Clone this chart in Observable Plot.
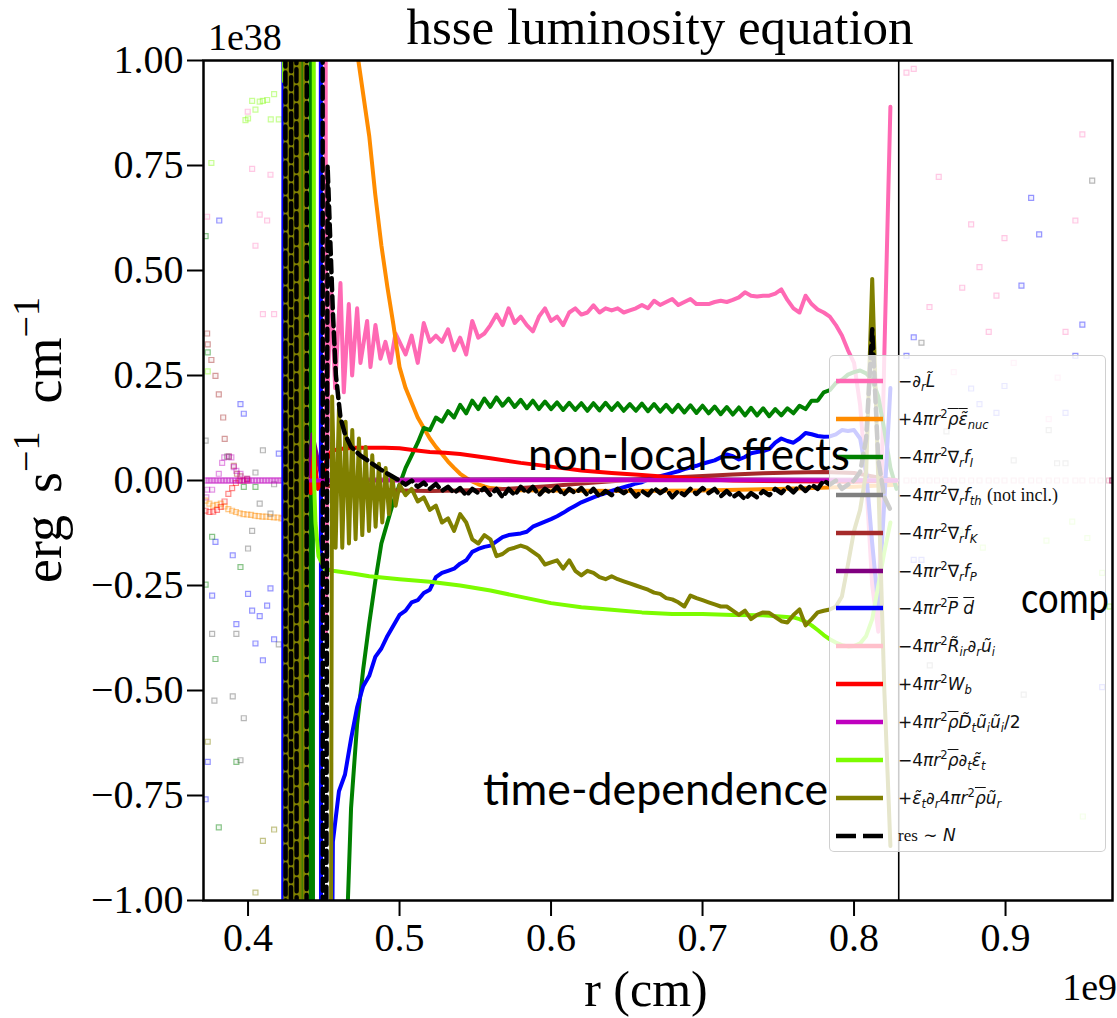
<!DOCTYPE html>
<html><head><meta charset="utf-8">
<script src="https://cdn.jsdelivr.net/npm/d3@7"></script>
<script src="https://cdn.jsdelivr.net/npm/@observablehq/plot@0.6"></script>
<style>
body{margin:0;background:#fff;}
#wrap{position:relative;width:1117px;height:1018px;overflow:hidden;background:#fff;}
#chart svg{display:block;}
#legend{position:absolute;left:829px;top:355px;width:277px;height:497px;background:rgba(255,255,255,0.8);border:1.5px solid rgba(200,200,200,0.85);border-radius:5px;box-sizing:border-box;}
.row{position:absolute;left:0;height:30px;display:flex;align-items:center;white-space:nowrap;}
.row svg{position:absolute;left:4px;top:10px;}
.lab{position:absolute;left:68px;font-family:"DejaVu Sans",sans-serif;font-size:17px;color:#111;line-height:30px;}
.lab i{font-style:italic;}
.lab sub,.lab sup{font-size:68%;line-height:0;}
.ov{text-decoration:overline;}
.rm{font-family:"Liberation Serif",serif;font-style:normal;}
#ov{position:absolute;left:0;top:0;pointer-events:none;}
</style></head>
<body><div id="wrap"><div id="chart"></div><div id="legend"></div>
<svg id="ov" width="1117" height="1018">
<text x="660" y="44" text-anchor="middle" font-family="Liberation Serif" font-size="51">hsse luminosity equation</text>
<text x="208" y="50" font-family="Liberation Serif" font-size="38">1e38</text>
<text x="1117" y="1000" text-anchor="end" font-family="Liberation Serif" font-size="38">1e9</text>
<text x="646" y="1006" text-anchor="middle" font-family="Liberation Serif" font-size="50">r (cm)</text>
<text transform="translate(61,440) rotate(-90)" text-anchor="middle" font-family="Liberation Serif" font-size="54">erg<tspan dx="22">s</tspan><tspan dy="-22" font-size="38">−1</tspan><tspan dy="22" dx="28">cm</tspan><tspan dy="-22" font-size="38">−1</tspan></text>
<text x="528" y="470" font-family="Lato" font-size="44" textLength="322" lengthAdjust="spacingAndGlyphs">non-local effects</text>
<text x="483" y="805" font-family="Lato" font-size="44" textLength="345" lengthAdjust="spacingAndGlyphs">time-dependence</text>
<text x="1021" y="613" font-family="Lato" font-size="43" textLength="88" lengthAdjust="spacingAndGlyphs">comp</text>
</svg>
</div>
<script>
// ---------- axes ----------
const xDomain = [0.3706, 0.9706];
const yDomain = [-1, 1];
const yTicks = [-1, -0.75, -0.5, -0.25, 0, 0.25, 0.5, 0.75, 1];
const xTicks = [0.4, 0.5, 0.6, 0.7, 0.8, 0.9];
const boundaries = [0.4229, 0.8295];

// ---------- series names / colours / legend labels ----------
const seriesNames = ["dL","nuc","fI","fth","fK","fP","Pd","Rir","Wb","Dt","eps","adv","res"];
const seriesColors = ["hotpink","darkorange","green","grey","brown","purple","blue","pink","red","#bf00bf","#7cfc00","olive","black"];
const seriesLabels = [
 '−∂<sub><i>r</i></sub><i>L̃</i>',
 '+4<i>πr</i><sup>2</sup><span class="ov"><i>ρ</i><i>ε̃</i></span><sub><i>nuc</i></sub>',
 '−4<i>πr</i><sup>2</sup>∇<sub><i>r</i></sub><i>f</i><sub><i>I</i></sub>',
 '−4<i>πr</i><sup>2</sup>∇<sub><i>r</i></sub><i>f</i><sub><i>th</i></sub> <span class="rm" style="font-size:18px">(not incl.)</span>',
 '−4<i>πr</i><sup>2</sup>∇<sub><i>r</i></sub><i>f</i><sub><i>K</i></sub>',
 '−4<i>πr</i><sup>2</sup>∇<sub><i>r</i></sub><i>f</i><sub><i>P</i></sub>',
 '−4<i>πr</i><sup>2</sup><span class="ov"><i>P</i></span> <span class="ov"><i>d</i></span>',
 '−4<i>πr</i><sup>2</sup><i>R̃</i><sub><i>ir</i></sub>∂<sub><i>r</i></sub><i>ũ</i><sub><i>i</i></sub>',
 '+4<i>πr</i><sup>2</sup><i>W</i><sub><i>b</i></sub>',
 '+4<i>πr</i><sup>2</sup><span class="ov"><i>ρ</i></span><i>D̃</i><sub><i>t</i></sub><i>ũ</i><sub><i>i</i></sub><i>ũ</i><sub><i>i</i></sub>/2',
 '−4<i>πr</i><sup>2</sup><span class="ov"><i>ρ</i></span>∂<sub><i>t</i></sub><i>ε̃</i><sub><i>t</i></sub>',
 '+<i>ε̃</i><sub><i>t</i></sub>∂<sub><i>r</i></sub>4<i>πr</i><sup>2</sup><span class="ov"><i>ρ</i></span><i>ũ</i><sub><i>r</i></sub>',
 '<span class="rm">res</span> ∼ <i>N</i>'
];

// ---------- sampling radii for the jagged profiles (1e9 cm) ----------
const rGrid = [0.456,0.46,0.464,0.468,0.472,0.476,0.48,0.484,0.488,0.492,0.496,0.5,0.504,0.508,0.512,0.516,0.52,0.524,0.528,0.532,0.536,0.54,0.544,0.548,0.552,0.556,0.56,0.564,0.568,0.572,0.576,0.58,0.584,0.588,0.592,0.596,0.6,0.604,0.608,0.612,0.616,0.62,0.624,0.628,0.632,0.636,0.64,0.644,0.648,0.652,0.656,0.66,0.664,0.668,0.672,0.676,0.68,0.684,0.688,0.692,0.696,0.7,0.704,0.708,0.712,0.716,0.72,0.724,0.728,0.732,0.736,0.74,0.744,0.748,0.752,0.756,0.76,0.764,0.768,0.772,0.776,0.78,0.784,0.788,0.792,0.796,0.8,0.804,0.808,0.812,0.816,0.82,0.824,0.828];

// values (1e38) on rGrid
const pinkGrid = [null,null,null,null,null,null,null,null,null,null,null,
 0.33,0.30,0.345,0.28,0.375,0.33,0.345,0.33,0.36,0.31,
 0.34,0.30,0.38,0.34,0.35,0.37,0.395,0.37,0.41,0.375,
 0.39,0.37,0.355,0.39,0.41,0.38,0.39,0.37,0.40,0.41,
 0.395,0.40,0.417,0.40,0.41,0.405,0.41,0.40,0.405,0.41,
 0.418,0.41,0.428,0.418,0.425,0.432,0.418,0.425,0.432,0.42,
 0.42,0.42,0.425,0.428,0.425,0.43,0.436,0.448,0.44,0.438,
 0.44,0.44,0.445,0.455,0.43,0.41,0.40,0.44,0.42,0.407,
 0.40,0.39,0.37,0.345,0.31,0.28,0.18,0.0,-0.25,-0.36,
 0.3,0.89,null];
const greenGrid = [-3,-2.0,-1.2,-0.78,-0.58,-0.45,-0.34,-0.24,-0.15,-0.1,-0.05,
 -0.01,0.03,0.06,0.09,0.125,0.12,0.15,0.14,0.165,0.15,
 0.18,0.16,0.19,0.17,0.195,0.175,0.198,0.178,0.195,0.175,
 0.192,0.172,0.19,0.17,0.188,0.17,0.186,0.168,0.185,0.168,
 0.184,0.166,0.184,0.167,0.185,0.168,0.184,0.166,0.182,0.166,
 0.183,0.165,0.182,0.164,0.18,0.163,0.18,0.162,0.179,0.161,
 0.178,0.16,0.176,0.158,0.175,0.157,0.174,0.155,0.173,0.155,
 0.172,0.153,0.17,0.155,0.172,0.16,0.178,0.17,0.19,0.19,
 0.21,0.215,0.232,0.24,0.252,0.258,0.262,0.255,0.24,0.2,
 0.12,0.03,-0.02];
const blueGrid = [-0.86,-0.74,-0.70,-0.615,-0.54,-0.49,-0.465,-0.42,-0.40,-0.37,-0.345,
 -0.32,-0.31,-0.29,-0.285,-0.268,-0.26,-0.23,-0.22,-0.215,-0.21,
 -0.198,-0.19,-0.17,-0.163,-0.158,-0.155,-0.145,-0.135,-0.13,-0.128,
 -0.126,-0.122,-0.11,-0.104,-0.098,-0.092,-0.085,-0.077,-0.068,-0.06,
 -0.052,-0.046,-0.04,-0.035,-0.03,-0.025,-0.02,-0.016,-0.012,-0.007,
 -0.004,0.002,0.006,0.01,0.014,0.018,0.022,0.027,0.031,0.035,
 0.04,0.044,0.048,0.055,0.062,0.058,0.05,0.056,0.065,0.068,
 0.07,0.075,0.09,0.1,0.094,0.09,0.1,0.113,0.11,0.106,
 0.104,0.105,0.11,0.12,0.118,0.12,0.1,0.02,-0.15,-0.3,
 -0.05,0.22,null];
const oliveGrid = [null,null,null,null,null,null,null,null,null,null,null,
 -0.01,-0.035,-0.02,-0.05,-0.04,-0.07,-0.06,-0.1,-0.09,-0.12,
 -0.08,-0.1,-0.14,-0.15,-0.13,-0.14,-0.18,-0.175,-0.164,-0.16,
 -0.155,-0.16,-0.17,-0.18,-0.2,-0.195,-0.19,-0.21,-0.19,-0.215,
 -0.226,-0.215,-0.22,-0.23,-0.235,-0.228,-0.235,-0.24,-0.245,-0.25,
 -0.255,-0.26,-0.267,-0.27,-0.28,-0.283,-0.29,-0.3,-0.274,-0.28,
 -0.285,-0.29,-0.295,-0.3,-0.3,-0.31,-0.32,-0.31,-0.33,-0.32,
 -0.314,-0.315,-0.325,-0.335,-0.338,-0.32,-0.307,-0.345,-0.33,-0.314,
 -0.31,-0.307,-0.3,-0.276,-0.2,-0.12,-0.07,0.02,0.48,0.0,
 -0.5,-0.87,null];
const resGrid = [null,null,null,null,null,null,null,null,null,null,null,
 0.0,-0.01,0.0,-0.015,-0.005,-0.02,-0.008,-0.025,-0.015,-0.03,
 -0.018,-0.036,-0.02,-0.03,-0.018,-0.035,-0.02,-0.04,-0.02,-0.035,
 -0.015,-0.03,-0.015,-0.035,-0.02,-0.03,-0.015,-0.035,-0.02,-0.03,
 -0.018,-0.035,-0.02,-0.038,-0.025,-0.035,-0.02,-0.03,-0.02,-0.038,
 -0.025,-0.035,-0.018,-0.03,-0.02,-0.04,-0.025,-0.035,-0.02,-0.032,
 -0.018,-0.03,-0.02,-0.038,-0.025,-0.04,-0.03,-0.045,-0.03,-0.04,
 -0.025,-0.035,-0.02,-0.03,-0.015,-0.028,-0.012,-0.025,-0.01,-0.02,
 0.0,-0.01,0.0,-0.02,-0.01,0.0,0.02,0.1,0.36,0.05,
 -0.04,-0.07,null];

// inner-boundary parts [r, value]
const pinkCore = [[0.4505,5],[0.4515,-0.36],[0.4528,0.25],[0.455,0.45],[0.4575,0.22],[0.461,0.47],[0.4632,0.21],[0.4665,0.42],[0.4687,0.25],[0.472,0.41],[0.4742,0.28],[0.4786,0.38],[0.4808,0.27],[0.4841,0.37],[0.4874,0.29],[0.4907,0.33],[0.494,0.28],[0.4973,0.35]];
const greenCore = [[0.4356,5],[0.4362,-5],[0.441,-5],[0.4416,5],[0.4425,5],[0.4431,-5]];
const blueCore = [[0.423,-5],[0.4236,5],[0.4478,5],[0.4484,-5]];
const limeCore = [[0.4234,5],[0.4238,0.95],[0.4244,5],[0.4425,5],[0.4436,0.0],[0.4445,-0.1],[0.4465,-0.18],[0.4505,-0.21]];
const oliveCore = [[0.4244,-5],[0.425,5],[0.4262,5],[0.4268,-5],[0.4281,-5],[0.4287,5],[0.4298,5],[0.4304,-5],[0.4317,-5],[0.4323,5],[0.4338,5],[0.4344,-5],[0.437,-5],[0.4376,5],[0.4384,5],[0.439,-5],[0.4525,-5],[0.4555,0.2],[0.4578,-0.16],[0.46,0.17],[0.4622,-0.16],[0.4644,0.14],[0.4666,-0.15],[0.4688,0.12],[0.471,-0.14],[0.4732,0.1],[0.4754,-0.13],[0.4776,0.08],[0.4798,-0.12],[0.482,0.06],[0.4842,-0.11],[0.4864,0.04],[0.4886,-0.1],[0.4908,0.03],[0.493,-0.08],[0.4952,0.01],[0.4974,-0.06]];
const resCore = [[0.4244,5],[0.425,-5],[0.4281,-5],[0.4287,5],[0.4317,5],[0.4323,-5],[0.4384,-5],[0.439,5],[0.449,5],[0.4496,-5],[0.45,-5],[0.4525,0.75],[0.4545,0.55],[0.456,0.4],[0.458,0.25],[0.461,0.15],[0.464,0.11],[0.468,0.08],[0.474,0.06],[0.48,0.045],[0.488,0.025],[0.495,0.01]];

// smooth profiles [r, value]
const orangePts = [[0.456,1.7],[0.46,1.45],[0.464,1.27],[0.468,1.12],[0.472,1.02],[0.476,0.92],[0.48,0.82],[0.484,0.68],[0.488,0.56],[0.492,0.46],[0.496,0.37],[0.5,0.27],[0.504,0.22],[0.508,0.185],[0.512,0.15],[0.516,0.125],[0.52,0.1],[0.524,0.08],[0.528,0.063],[0.532,0.045],[0.536,0.03],[0.54,0.016],[0.544,0.006],[0.548,-0.002],[0.552,-0.009],[0.556,-0.014],[0.56,-0.018],[0.57,-0.021],[0.58,-0.023],[0.6,-0.024],[0.65,-0.025],[0.7,-0.024],[0.75,-0.02],[0.8,-0.015],[0.828,-0.01]];
const redPts = [[0.4395,0.0],[0.4415,-0.03],[0.4435,0.07],[0.446,-0.02],[0.449,0.0],[0.452,0.05],[0.455,0.07],[0.46,0.075],[0.47,0.078],[0.48,0.078],[0.49,0.078],[0.5,0.077],[0.51,0.072],[0.52,0.068],[0.53,0.066],[0.54,0.063],[0.56,0.053],[0.58,0.042],[0.6,0.033],[0.62,0.024],[0.64,0.018],[0.66,0.013],[0.68,0.008],[0.7,0.003],[0.72,0.0],[0.76,-0.002],[0.8,-0.003],[0.828,0.0]];
const limePts = [[0.456,-0.215],[0.47,-0.222],[0.48,-0.228],[0.5,-0.235],[0.52,-0.241],[0.54,-0.25],[0.56,-0.262],[0.58,-0.277],[0.6,-0.292],[0.62,-0.302],[0.64,-0.308],[0.66,-0.314],[0.68,-0.318],[0.7,-0.318],[0.72,-0.32],[0.74,-0.321],[0.76,-0.326],[0.764,-0.33],[0.768,-0.336],[0.772,-0.345],[0.776,-0.356],[0.78,-0.368],[0.784,-0.378],[0.788,-0.386],[0.792,-0.392],[0.796,-0.395],[0.8,-0.394],[0.804,-0.388],[0.808,-0.37],[0.812,-0.33],[0.816,-0.25],[0.82,-0.17],[0.824,-0.1]];
const brownPts = [[0.4395,0.0],[0.45,-0.01],[0.46,-0.018],[0.48,-0.022],[0.5,-0.024],[0.52,-0.025],[0.54,-0.024],[0.56,-0.022],[0.58,-0.018],[0.6,-0.013],[0.62,-0.007],[0.64,-0.002],[0.66,0.003],[0.68,0.007],[0.7,0.011],[0.72,0.014],[0.74,0.017],[0.76,0.019],[0.78,0.02],[0.8,0.018],[0.815,0.008],[0.828,0.0]];
const purplePts = [[0.4395,0.0],[0.4425,0.11],[0.446,0.05],[0.449,0.0],[0.46,0.002],[0.6,0.003],[0.8,0.002],[0.828,0.0]];
const lightpinkPts = [[0.4395,0.0],[0.6,0.0],[0.828,0.0]];
const magentaPts = [[0.4395,0.0],[0.46,0.0],[0.6,0.001],[0.828,0.0]];

// outer regions: sparse markers [r, value]
const scatterLime = [[0.4027,0.904],[0.4049,0.883],[0.4077,0.902],[0.4098,0.904],[0.4126,0.906],[0.4172,0.92],[0.3983,0.858],[0.4,0.862],[0.415,0.86],[0.4203,0.86],[0.3758,0.756],[0.3734,0.26],[0.944,-0.098],[0.927,-0.143],[0.954,-0.137],[0.9638,-0.22],[0.9687,-0.3],[0.951,-0.8],[0.87,-0.12],[0.885,-0.16]];
const scatterPink = [[0.3998,0.878],[0.4027,0.742],[0.4148,0.728],[0.4077,0.633],[0.4126,0.619],[0.4049,0.559],[0.4098,0.396],[0.4172,0.396],[0.373,0.628],[0.8346,0.971],[0.8394,0.98],[0.9507,0.824],[0.8559,0.723],[0.9461,0.619],[0.8773,0.61],[0.8993,0.577],[0.8828,0.508],[0.8714,0.459],[0.894,0.44],[0.8498,0.413],[0.8889,0.354],[0.9396,0.354],[0.9054,0.28],[0.9344,0.245],[0.9285,0.146],[0.8658,0.258]];
const scatterBrown = [[0.373,0.35],[0.3734,0.324],[0.3758,0.287],[0.3785,0.249],[0.3807,0.205],[0.3836,0.15],[0.3846,0.099],[0.3873,0.057],[0.3906,0.035],[0.3927,0.016],[0.395,0.01],[0.3994,0.004]];
const scatterPurple = [[0.3725,-0.04],[0.373,-0.022],[0.3763,-0.022],[0.3807,0.016],[0.3829,0.042],[0.3843,0.055],[0.3873,0.057],[0.389,0.055],[0.3906,0.032],[0.3923,0.023],[0.395,0.016],[0.3994,0.004]];
const scatterOrange = [[0.372,-0.048],[0.3745,-0.055],[0.377,-0.06],[0.3795,-0.058],[0.382,-0.055],[0.3845,-0.062],[0.387,-0.068],[0.3895,-0.072],[0.392,-0.075],[0.3945,-0.078],[0.397,-0.08],[0.3995,-0.081],[0.402,-0.082],[0.4045,-0.084],[0.407,-0.085],[0.4095,-0.086],[0.412,-0.086],[0.4145,-0.087],[0.417,-0.088],[0.4195,-0.088],[0.422,-0.09]];
const scatterRed = [[0.372,-0.072],[0.3745,-0.075],[0.377,-0.074],[0.3795,-0.07],[0.382,-0.063],[0.3845,-0.05],[0.387,-0.032],[0.3895,-0.018],[0.392,-0.006],[0.3945,0.0],[0.397,0.0],[0.3995,0.0]];
const scatterGrey = [[0.372,0.095],[0.3862,0.057],[0.4098,0.072],[0.4049,0.019],[0.4172,-0.009],[0.4077,-0.055],[0.4148,-0.079],[0.4027,-0.12],[0.4,-0.162],[0.3763,-0.365],[0.3923,-0.365],[0.4203,-0.39],[0.3778,-0.524],[0.3899,-0.514],[0.3972,-0.566],[0.395,-0.666],[0.9572,0.714],[0.8445,0.328],[0.9285,0.12],[0.9054,0.048],[0.934,0.041],[0.9396,0.041],[0.861,0.117],[0.912,-0.51],[0.85,-0.44]];
const scatterBlue = [[0.381,0.619],[0.395,0.182],[0.3972,0.159],[0.4203,0.064],[0.3785,-0.146],[0.3899,-0.178],[0.3763,-0.274],[0.4,-0.27],[0.4148,-0.257],[0.4027,-0.31],[0.4077,-0.323],[0.4126,-0.298],[0.3923,-0.342],[0.4049,-0.388],[0.4098,-0.428],[0.4172,-0.378],[0.3734,-0.67],[0.372,-0.759],[0.9169,0.673],[0.9222,0.586],[0.9105,0.464],[0.8394,0.341],[0.9507,0.371],[0.8346,0.297],[0.9461,0.297],[0.8993,0.225],[0.8773,0.219],[0.8828,0.182],[0.9396,0.161],[0.894,0.161],[0.8445,-0.189],[0.8394,-0.189],[0.9638,-0.492]];
const scatterGreen = [[0.372,0.582],[0.3734,0.305],[0.3972,-0.015],[0.4049,-0.015],[0.3763,-0.134],[0.395,-0.206],[0.372,-0.248],[0.3785,-0.425],[0.3923,-0.67],[0.3807,-0.826]];
const scatterOlive = [[0.3734,-0.622],[0.4098,-0.858],[0.4172,-0.831],[0.4049,-0.981]];
const rowLeftR = [0.372,0.374,0.376,0.378,0.38,0.382,0.384,0.386,0.388,0.39,0.392,0.394,0.396,0.398,0.4,0.402,0.404,0.406,0.408,0.41,0.412,0.414,0.416,0.418,0.42,0.422];
const rowRightR = [0.8346,0.8394,0.8445,0.8498,0.8548,0.8603,0.8658,0.8714,0.8773,0.8828,0.8889,0.894,0.8993,0.9054,0.9105,0.9169,0.9222,0.9285,0.934,0.9396,0.9461,0.9507,0.9572,0.9627,0.9682];
const rowValue = 0.0;
const edgeMagenta = [[0.9705,0.0]];

// ---------- build ----------
const fromGrid = g => rGrid.map((r, i) => [r, g[i]]).filter(p => p[1] != null);
const linePts = {
  dL: pinkCore.concat(fromGrid(pinkGrid)),
  nuc: orangePts,
  fI: greenCore.concat(fromGrid(greenGrid)),
  fth: [],
  fK: brownPts,
  fP: purplePts,
  Pd: blueCore.concat(fromGrid(blueGrid)),
  Rir: lightpinkPts,
  Wb: redPts,
  Dt: magentaPts,
  eps: limeCore.concat(limePts),
  adv: oliveCore.concat(fromGrid(oliveGrid)),
  res: resCore.concat(fromGrid(resGrid))
};
const color = Object.fromEntries(seriesNames.map((n, i) => [n, seriesColors[i]]));
const X = d => d[0], Y = d => d[1];
const sq = (pts, c, op) => Plot.dot(pts, {x: X, y: Y, symbol: "square", r: 2.8, stroke: c, strokeOpacity: op, fill: c, fillOpacity: 0.06, strokeWidth: 1.2, clip: true});

const marks = [
  Plot.ruleX(boundaries, {stroke: "black", strokeWidth: 1.6}),
  sq(scatterLime, color.eps, 0.4),
  sq(scatterPink, color.dL, 0.35),
  sq(scatterBrown, color.fK, 0.45),
  sq(scatterPurple, color.Dt, 0.4),
  sq(scatterOrange, color.nuc, 0.45),
  sq(scatterRed, color.Wb, 0.45),
  sq(scatterGrey, color.fth, 0.55),
  sq(scatterBlue, color.Pd, 0.4),
  sq(scatterGreen, color.fI, 0.45),
  sq(scatterOlive, color.adv, 0.45),
  sq(rowLeftR.map(r => [r, rowValue]), color.Dt, 0.55),
  sq(rowRightR.map(r => [r, rowValue]), "palevioletred", 0.4),
  sq(edgeMagenta, "#b0306a", 0.9),
  ...seriesNames.filter(n => linePts[n].length).map(n =>
    Plot.line(linePts[n], {x: X, y: Y, stroke: color[n], strokeWidth: n === "res" ? 4.5 : 4,
      strokeDasharray: n === "res" ? "12,6" : null, strokeLinejoin: "round", clip: true})),
  Plot.frame({stroke: "black", strokeWidth: 2.5}),
  Plot.axisY(yTicks, {tickSize: 16, tickPadding: 4, strokeWidth: 2, label: null,
    tickFormat: d => d.toFixed(2).replace("-", "−")}),
  Plot.axisX(xTicks, {tickSize: 16, tickPadding: 6, strokeWidth: 2, label: null,
    tickFormat: d => d.toFixed(1)})
];

const chart = Plot.plot({
  width: 1117, height: 1018,
  marginLeft: 203, marginRight: 5, marginTop: 60, marginBottom: 118,
  x: {domain: xDomain},
  y: {domain: yDomain},
  style: {fontFamily: "Liberation Serif", fontSize: "40px", color: "black", background: "white"},
  marks
});
document.getElementById("chart").appendChild(chart);

// ---------- legend ----------
const legend = document.getElementById("legend");
seriesNames.forEach((n, i) => {
  const row = document.createElement("div");
  row.className = "row";
  row.style.top = (380 + i * 37.9 - 355 - 15) + "px";
  row.style.width = "270px";
  const dash = n === "res" ? 'stroke-dasharray="20,7"' : "";
  row.innerHTML = `<svg width="56" height="10"><line x1="2" y1="5" x2="49" y2="5" stroke="${seriesColors[i]}" stroke-width="4.5" ${dash}/></svg><span class="lab">${seriesLabels[i]}</span>`;
  legend.appendChild(row);
});
</script>
</body></html>
